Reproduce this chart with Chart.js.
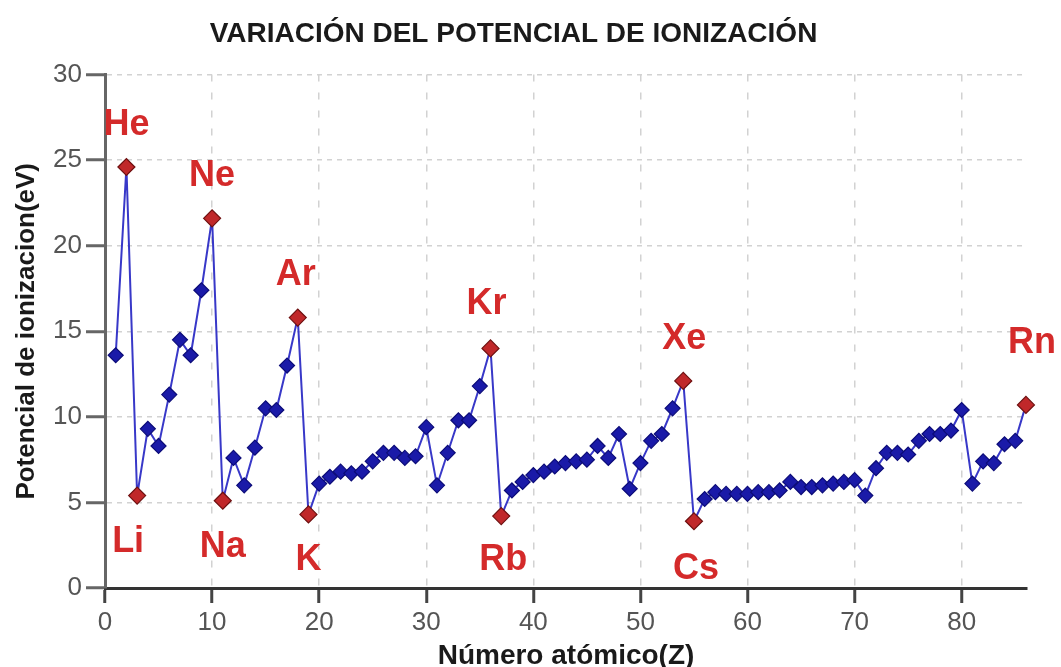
<!DOCTYPE html>
<html>
<head>
<meta charset="utf-8">
<script src="https://cdn.jsdelivr.net/npm/chart.js@4/dist/chart.umd.min.js"></script>
<style>
  html, body { margin: 0; padding: 0; background: #ffffff; }
  #wrap { width: 1061px; height: 667px; }
</style>
</head>
<body>
<div id="wrap"><canvas id="c" width="1061" height="667"></canvas></div>
<script>
// ---- Data ----
const atomicNumbers = [
  1, 2, 3, 4, 5, 6, 7, 8, 9, 10,
  11, 12, 13, 14, 15, 16, 17, 18, 19, 20,
  21, 22, 23, 24, 25, 26, 27, 28, 29, 30,
  31, 32, 33, 34, 35, 36, 37, 38, 39, 40,
  41, 42, 43, 44, 45, 46, 47, 48, 49, 50,
  51, 52, 53, 54, 55, 56, 57, 58, 59, 60,
  61, 62, 63, 64, 65, 66, 67, 68, 69, 70,
  71, 72, 73, 74, 75, 76, 77, 78, 79, 80,
  81, 82, 83, 84, 85, 86
];
const ionizationEnergy = [
  13.6, 24.6, 5.4, 9.3, 8.3, 11.3, 14.5, 13.6, 17.4, 21.6,
  5.1, 7.6, 6.0, 8.2, 10.5, 10.4, 13.0, 15.8, 4.3, 6.1,
  6.5, 6.8, 6.7, 6.8, 7.4, 7.9, 7.9, 7.6, 7.7, 9.4,
  6.0, 7.9, 9.8, 9.8, 11.8, 14.0, 4.2, 5.7, 6.2, 6.6,
  6.8, 7.1, 7.3, 7.4, 7.5, 8.3, 7.6, 9.0, 5.8, 7.3,
  8.6, 9.0, 10.5, 12.1, 3.9, 5.2, 5.6, 5.5, 5.5, 5.5,
  5.6, 5.6, 5.7, 6.2, 5.9, 5.9, 6.0, 6.1, 6.2, 6.3,
  5.4, 7.0, 7.9, 7.9, 7.8, 8.6, 9.0, 9.0, 9.2, 10.4,
  6.1, 7.4, 7.3, 8.4, 8.6, 10.7
];
const labelledZ      = [2, 3, 10, 11, 18, 19, 36, 37, 54, 55, 86];
const elementSymbols = ['He', 'Li', 'Ne', 'Na', 'Ar', 'K', 'Kr', 'Rb', 'Xe', 'Cs', 'Rn'];
const xTickValues = [0, 10, 20, 30, 40, 50, 60, 70, 80];
const yTickValues = [0, 5, 10, 15, 20, 25, 30];

// ---- Styling (label placement relative to its marker, in px) ----
const labelOffsets = {
  He: [0, -42], Li: [-9, 46], Ne: [0, -42], Na: [0, 46], Ar: [-2, -43],
  K: [0, 46], Kr: [-4, -44], Rb: [2, 44], Xe: [1, -42], Cs: [2, 48], Rn: [6, -62]
};

const points = atomicNumbers.map((z, i) => ({ x: z, y: ionizationEnergy[i] }));
const isLabelled = (ctx) => labelledZ.includes(atomicNumbers[ctx.dataIndex]);

const elementLabelPlugin = {
  id: 'elementLabels',
  afterDatasetsDraw(chart) {
    const meta = chart.getDatasetMeta(0);
    const ctx = chart.ctx;
    ctx.save();
    ctx.font = 'bold 36px "Liberation Sans", Arial, sans-serif';
    ctx.fillStyle = '#d42a2a';
    ctx.textAlign = 'center';
    ctx.textBaseline = 'middle';
    labelledZ.forEach((z, k) => {
      const idx = atomicNumbers.indexOf(z);
      const el = meta.data[idx];
      const sym = elementSymbols[k];
      const off = labelOffsets[sym] || [0, 0];
      ctx.fillText(sym, el.x + off[0], el.y + off[1]);
    });
    ctx.restore();
  }
};

new Chart(document.getElementById('c'), {
  type: 'line',
  data: {
    datasets: [{
      data: points,
      borderColor: '#3838c8',
      borderWidth: 2,
      tension: 0,
      clip: false,
      pointStyle: 'rectRot',
      pointRadius: (ctx) => isLabelled(ctx) ? 8.5 : 7.5,
      pointBorderWidth: 1.2,
      pointBackgroundColor: (ctx) => isLabelled(ctx) ? '#c0282a' : '#1a1aa8',
      pointBorderColor: (ctx) => isLabelled(ctx) ? '#6e1010' : '#0c0c78'
    }]
  },
  options: {
    responsive: false,
    animation: false,
    devicePixelRatio: 1,
    layout: { padding: { left: 0, right: 34, top: 0, bottom: 0 } },
    plugins: {
      legend: { display: false },
      tooltip: { enabled: false },
      title: {
        display: true,
        text: 'VARIACIÓN DEL POTENCIAL DE IONIZACIÓN',
        color: '#1a1a1a',
        font: { family: '"Liberation Sans", Arial, sans-serif', size: 28, weight: 'bold', lineHeight: 1.2 },
        padding: { top: 17, bottom: 24 }
      }
    },
    scales: {
      x: {
        type: 'linear',
        min: 0,
        max: 86.1,
        afterBuildTicks: (s) => { s.ticks = xTickValues.map(v => ({ value: v })); },
        afterFit: (s) => { s.height = 79; },
        ticks: {
          color: '#555',
          font: { family: '"Liberation Sans", Arial, sans-serif', size: 26 },
          padding: 4,
          maxRotation: 0
        },
        grid: {
          color: '#d2d2d2',
          lineWidth: 1.5,
          tickLength: 15,
          tickColor: '#444',
          tickWidth: 3,
          tickBorderDash: []
        },
        border: { display: true, color: '#333', width: 3, dash: [7, 11] },
        title: {
          display: true,
          text: 'Número atómico(Z)',
          color: '#1a1a1a',
          font: { family: '"Liberation Sans", Arial, sans-serif', size: 28, weight: 'bold', lineHeight: 1.2 },
          padding: { top: 0, bottom: -6 }
        }
      },
      y: {
        type: 'linear',
        min: 0,
        max: 30,
        afterBuildTicks: (s) => { s.ticks = yTickValues.map(v => ({ value: v })); },
        afterFit: (s) => { s.width = 105; },
        ticks: {
          color: '#555',
          font: { family: '"Liberation Sans", Arial, sans-serif', size: 26 },
          padding: 4
        },
        grid: {
          color: '#d2d2d2',
          lineWidth: 1.5,
          tickLength: 19,
          tickColor: '#666',
          tickWidth: 3,
          tickBorderDash: []
        },
        border: { display: true, color: '#666', width: 3, dash: [5, 5] },
        title: {
          display: true,
          text: 'Potencial de ionizacion(eV)',
          color: '#1a1a1a',
          font: { family: '"Liberation Sans", Arial, sans-serif', size: 26, weight: 'bold', lineHeight: 1.2 },
          padding: { top: 11, bottom: 0 }
        }
      }
    }
  },
  plugins: [elementLabelPlugin]
});
</script>
</body>
</html>
